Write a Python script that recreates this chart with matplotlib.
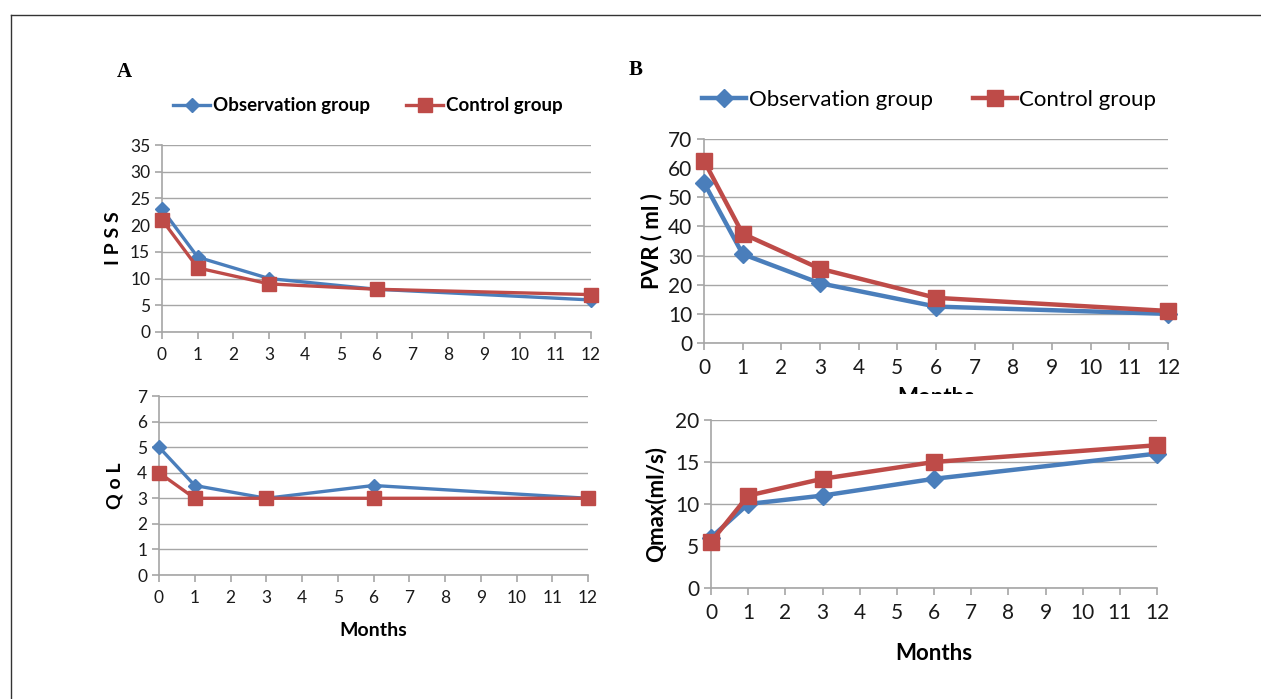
import matplotlib
matplotlib.use('Agg')
import matplotlib.pyplot as plt
from matplotlib.lines import Line2D
from matplotlib.patches import Rectangle

# data
months = [0, 1, 3, 6, 12]
ipss_obs = [23, 14, 10, 8, 6]
ipss_ctrl = [21, 12, 9, 8, 7]
qol_obs = [5, 3.5, 3, 3.5, 3]
qol_ctrl = [4, 3, 3, 3, 3]
pvr_obs = [55, 30.5, 20.5, 12.5, 10]
pvr_ctrl = [62.5, 37.5, 25.5, 15.5, 11]
qmax_obs = [6, 10, 11, 13, 16]
qmax_ctrl = [5.5, 11, 13, 15, 17]

BLUE = '#4a7ebb'
RED = '#be4b48'
GRID = '#a6a6a6'

plt.rcParams['font.family'] = ['Lato', 'DejaVu Sans']

W, H = 1261, 699
fig = plt.figure(figsize=(W / 100, H / 100), dpi=100)


def px_axes(x0, x1, ytop, ybot):
    return fig.add_axes([x0 / W, 1 - ybot / H, (x1 - x0) / W, (ybot - ytop) / H])


def style(ax, ymax, ystep, fs):
    ax.set_xlim(0, 12)
    ax.set_ylim(0, ymax)
    ax.set_xticks(range(13))
    ax.set_yticks(range(0, ymax + 1, ystep))
    ax.grid(axis='y', color=GRID, lw=1)
    ax.set_axisbelow(True)
    for s in ['top', 'right']:
        ax.spines[s].set_visible(False)
    for s in ['left', 'bottom']:
        ax.spines[s].set_color(GRID)
        ax.spines[s].set_linewidth(1.2)
    ax.tick_params(colors=GRID, labelcolor='#1a1a1a', labelsize=fs,
                   length=5, width=1.2, direction='out')
    ax.tick_params(axis='x', pad=6)


def plot_pair(ax, obs, ctrl, lw, ms_d, ms_s):
    ax.plot(months, obs, color=BLUE, lw=lw, marker='D', ms=ms_d,
            label='Observation group', clip_on=False, zorder=3)
    ax.plot(months, ctrl, color=RED, lw=lw, marker='s', ms=ms_s,
            label='Control group', clip_on=False, zorder=4)


# Panel A, IPSS
ax1 = px_axes(162, 591, 145, 332)
plot_pair(ax1, ipss_obs, ipss_ctrl, 2.4, 7.5, 9.5)
style(ax1, 35, 5, 12.5)
ax1.set_ylabel('I P S S', fontsize=14, fontweight='bold', labelpad=6)
ax1.legend(loc='center', bbox_to_anchor=(0.48, 1.21), ncol=2, frameon=False,
           prop={'size': 13.5, 'weight': 'bold'}, handlelength=2.0,
           handletextpad=0.15, columnspacing=1.9)

# Panel A, QoL
ax2 = px_axes(159, 588, 396, 575)
plot_pair(ax2, qol_obs, qol_ctrl, 2.4, 7.5, 9.5)
style(ax2, 7, 1, 12.5)
ax2.set_ylabel('Q o L', fontsize=14, fontweight='bold', labelpad=10)
ax2.set_xlabel('Months', fontsize=14, fontweight='bold', labelpad=11)

# Panel B, PVR
ax3 = px_axes(704, 1168, 139, 343)
plot_pair(ax3, pvr_obs, pvr_ctrl, 3.2, 9.5, 12)
style(ax3, 70, 10, 15)
ax3.set_ylabel('PVR ( ml )', fontsize=16, fontweight='bold', labelpad=4)
ax3.set_xlabel('Months', fontsize=16, fontweight='bold', labelpad=6)
ax3.legend(loc='center', bbox_to_anchor=(0.485, 1.19), ncol=2, frameon=False,
           prop={'size': 16}, handlelength=2.0, handletextpad=0.1,
           columnspacing=1.8)

# Panel B, Qmax
ax4 = px_axes(711, 1157, 420, 588)
plot_pair(ax4, qmax_obs, qmax_ctrl, 3.2, 9.5, 12)
style(ax4, 20, 5, 15)
ax4.set_ylabel('Qmax(ml/s)', fontsize=16, fontweight='bold', labelpad=6)
ax4.set_xlabel('Months', fontsize=16, fontweight='bold', labelpad=14)

# the lower B chart hides most of the upper "Months"
fig.add_artist(Rectangle((820 / W, 1 - 416 / H), 240 / W, 22 / H,
                         transform=fig.transFigure, facecolor='white',
                         edgecolor='none', zorder=10))

fig.text(124 / W, 1 - 72 / H, 'A', fontsize=15, fontweight='bold',
         family='Liberation Serif', ha='center', va='center')
fig.text(636 / W, 1 - 70 / H, 'B', fontsize=15, fontweight='bold',
         family='Liberation Serif', ha='center', va='center')

# page frame: top and left only
fig.add_artist(Line2D([11 / W, 1], [1 - 15 / H, 1 - 15 / H], color='#333333', lw=1))
fig.add_artist(Line2D([11 / W, 11 / W], [0, 1 - 15 / H], color='#333333', lw=1))

fig.savefig('out.png', dpi=100, facecolor='white')
